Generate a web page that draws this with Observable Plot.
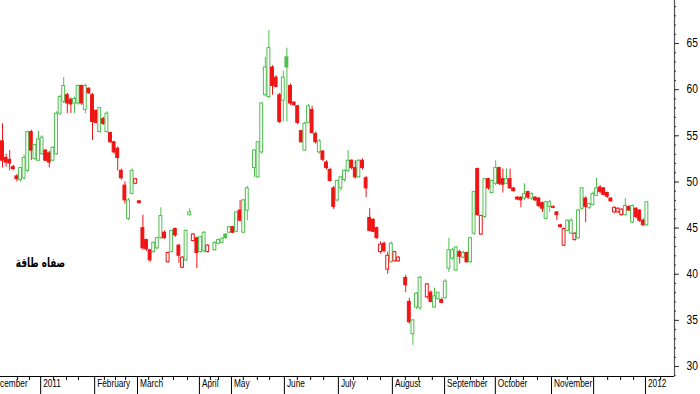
<!DOCTYPE html>
<html><head><meta charset="utf-8">
<script src="https://cdn.jsdelivr.net/npm/d3@7"></script>
<script src="https://cdn.jsdelivr.net/npm/@observablehq/plot@0.6"></script>
<style>
html,body{margin:0;padding:0;background:#fff;}
#chart{width:700px;height:394px;overflow:hidden;}
</style></head><body><div id="chart"></div>
<script>
// Daily candles (trading-day index order), Dec 2010 – early Jan 2012; null = no session drawn
const open = [
54.4,52.6,52.4,51.6,50.6,50.2,50.4,51.2,55.4,52.5,
52.3,53.0,53.4,53.1,52.3,53.0,57.4,58.7,59.4,58.9,
58.5,58.5,60.4,57.8,60.1,59.4,57.7,55.4,56.8,55.4,
55.3,54.3,53.6,51.2,49.6,46.0,48.7,49.8,47.9,45.0,
43.7,42.6,42.4,42.8,43.9,44.5,41.3,42.4,44.9,43.1,
40.7,41.5,46.4,43.6,43.9,42.4,42.5,42.4,null,42.6,
43.3,43.4,44.3,44.5,45.1,44.6,46.9,44.5,46.9,null,
51.5,50.5,53.2,59.4,59.2,62.4,61.3,59.4,58.8,63.5,
60.4,58.6,58.2,55.5,53.4,56.4,57.8,55.2,53.2,53.3,
52.1,51.3,49.3,48.0,49.3,50.2,51.2,52.3,51.5,50.5,
52.3,50.4,46.1,45.9,45.0,42.4,43.3,40.5,41.3,41.4,
41.4,null,39.6,37.0,33.5,36.4,36.3,null,37.5,38.0,
36.4,37.3,37.2,37.4,40.6,41.7,40.4,42.4,41.8,42.3,
41.3,44.4,51.4,44.3,46.2,50.3,48.8,49.8,51.5,50.3,
49.8,50.3,49.3,48.3,48.3,48.2,48.9,48.2,48.3,48.2,
47.7,46.0,47.3,47.3,46.7,45.3,43.1,44.7,44.4,43.7,
43.9,47.1,48.2,47.2,47.5,48.5,49.4,49.3,48.8,48.2,
46.7,46.7,46.4,46.4,47.3,45.6,47.1,46.9,45.8,45.3
];
const high = [
56.3,53.0,53.4,51.8,50.8,51.6,52.9,55.5,55.6,54.1,
55.5,55.0,53.5,53.3,53.8,57.6,59.4,61.3,59.6,59.1,
59.2,60.5,60.5,60.6,60.2,59.6,57.8,58.1,57.0,57.6,
55.4,54.4,53.8,51.4,50.0,48.2,51.4,50.4,48.0,46.4,
43.8,42.7,43.5,44.0,47.2,44.7,42.4,44.8,45.0,43.2,
41.9,44.8,47.1,44.4,44.0,44.1,44.6,43.2,null,43.5,
43.8,44.0,44.4,45.2,45.2,46.8,48.0,48.1,49.5,null,
53.5,54.4,58.6,63.5,66.4,62.6,61.5,59.6,62.0,64.5,
60.6,58.7,58.3,55.6,56.5,58.4,58.2,55.4,54.6,53.4,
52.3,51.5,49.5,50.2,50.6,51.3,53.4,52.4,52.3,52.4,
52.5,50.6,47.1,46.0,45.1,43.5,43.5,42.4,43.5,42.5,
41.9,null,39.9,37.4,35.1,38.0,39.8,null,39.0,38.2,
38.5,38.0,37.4,39.4,43.9,42.8,43.0,42.6,42.5,42.4,
44.0,49.0,51.5,46.4,50.4,50.4,50.2,52.3,51.6,51.4,
51.4,51.4,49.4,48.4,48.4,49.8,49.0,48.8,48.4,48.3,
47.8,47.9,48.0,47.4,46.8,45.4,45.0,45.9,46.0,44.5,
47.0,49.4,48.4,47.7,48.9,50.4,49.6,49.4,48.9,48.3,
47.3,47.2,47.1,48.2,47.4,47.5,47.2,47.0,46.0,47.9
];
const low = [
51.5,51.6,51.2,51.2,50.0,50.0,50.2,51.0,52.3,52.3,
52.2,52.9,52.2,51.5,52.2,52.9,57.2,58.5,57.4,57.4,
57.4,58.3,58.3,57.4,59.5,54.5,56.3,55.3,56.1,55.3,
54.2,53.0,51.2,50.2,47.6,45.8,48.6,49.7,47.6,42.6,
42.5,41.3,42.3,42.7,43.8,43.8,41.2,42.3,44.0,41.2,
40.6,41.4,46.3,43.5,40.6,42.3,42.3,42.3,null,42.5,
43.2,43.3,43.8,44.4,44.4,44.5,45.7,44.4,45.8,null,
50.5,50.4,53.0,59.2,59.0,59.4,60.2,56.3,56.5,56.5,
58.3,58.2,56.2,54.2,53.3,56.3,55.2,54.1,53.0,52.2,
51.3,50.0,47.0,47.8,49.0,50.0,51.0,51.3,50.3,50.4,
51.3,48.3,44.6,44.5,43.8,42.2,42.3,40.0,41.2,41.3,
41.3,null,38.0,34.6,32.3,36.2,36.1,null,37.3,36.9,
36.3,37.2,36.8,37.3,40.2,41.5,40.3,41.1,41.7,41.2,
41.2,44.2,46.3,44.2,46.0,49.1,48.7,49.6,49.6,48.8,
49.7,49.2,48.9,48.0,47.2,48.0,48.1,48.0,47.9,47.2,
46.7,45.9,46.7,47.1,45.8,45.0,43.0,44.6,44.3,43.6,
43.8,46.9,45.6,47.0,47.4,48.4,48.7,48.5,48.2,47.8,
46.6,46.6,46.3,46.3,46.8,45.5,46.0,45.6,45.2,45.2
];
const close = [
52.3,52.1,52.0,51.4,50.3,51.5,52.6,55.4,53.4,54.0,
54.6,54.8,52.3,52.1,53.7,57.4,59.2,60.4,58.5,58.4,
59.0,60.4,58.5,60.4,59.6,56.5,56.4,58.0,56.3,57.4,
54.3,53.2,52.6,50.4,48.0,48.0,51.2,50.3,47.7,42.8,
42.7,41.5,43.4,43.9,46.3,43.9,42.3,44.7,44.2,42.0,
41.8,44.7,46.7,44.3,42.3,44.0,44.5,43.1,null,43.4,
43.7,43.8,43.9,45.1,44.5,46.7,45.8,48.0,49.3,null,
53.4,54.3,58.5,62.4,64.5,60.4,60.3,56.5,61.3,62.4,
58.5,58.3,56.4,54.3,56.3,58.2,55.3,54.3,54.4,52.4,
51.5,50.1,47.3,50.1,50.5,51.2,52.3,51.5,50.5,52.3,
51.5,49.3,44.7,44.6,43.9,43.2,42.5,42.0,43.3,42.4,
41.8,null,38.8,34.8,35.0,37.9,39.6,null,38.9,37.0,
37.6,38.0,36.9,39.2,42.6,42.6,42.9,41.9,42.3,41.3,
43.9,48.9,46.4,46.3,50.3,49.3,50.1,51.5,49.8,49.7,
50.3,49.3,49.0,48.1,48.0,48.7,48.3,48.7,48.0,47.4,
47.1,47.8,47.8,47.2,46.4,45.1,44.9,45.8,45.8,44.4,
46.9,49.3,47.3,47.6,48.7,49.3,48.9,48.6,48.4,47.9,
47.2,47.1,47.0,47.4,46.9,47.4,46.2,45.8,45.3,47.8
];

// Month boundaries on the trading-day index axis, and their labels
const monthPos = [-4.3, 10.6, 25.6, 37.5, 54.7, 63.6, 78.3, 93.3, 108.3, 122.8, 136.9, 152.5, 164.2, 178.6];
const monthLabels = ["December","2011","February","March","April","May","June","July","August","September","October","November","","2012"];
// Weekly minor ticks (trading-day index)
const weekTicks = [4.2,7.5,14.2,17.8,21.1,28.3,31.4,34.2,40.6,44.4,47.5,51.4,57.8,60.0,66.9,70.8,74.2,81.9,85.6,89.2,97.5,101.4,105.0,111.9,115.6,119.4,126.4,130.0,133.6,141.1,144.7,148.6,156.9,160.6,168.1,171.7,175.3,182.8];
// Price axis ticks
const yTicks = [30,35,40,45,50,55,60,65];
const yMinor = d3.range(29, 70, 1);
const title = "صفاه طاقة";

const candles = open.map((o, i) => ({i, o, h: high[i], l: low[i], c: close[i]})).filter(d => d.o != null);
let prevClose = null;
for (const d of candles) {
  const ref = prevClose == null ? d.o : prevClose;
  d.up = d.c >= ref;
  d.filled = d.c < d.o;
  prevClose = d.c;
}
const green = "#4fbf4f", red = "#f01414";
const xMin = -2/3.6, xMax = 672/3.6;
const yMin = 28.92, yMax = 69.66;
const sans = "'Liberation Sans',Arial,sans-serif";

const chart = Plot.plot({
  width: 700, height: 394,
  marginLeft: 0, marginRight: 26, marginTop: 0, marginBottom: 18,
  x: {type: "linear", domain: [xMin, xMax], axis: null},
  y: {domain: [yMin, yMax], axis: null},
  color: {type: "identity"},
  style: {background: "#fff", fontFamily: sans, color: "#000"},
  marks: [
    Plot.ruleX(candles, {x: "i", y1: "l", y2: "h", stroke: d => d.up ? green : red, strokeWidth: 1}),
    Plot.rect(candles, {
      x1: d => d.i - 0.4, x2: d => d.i + 0.4,
      y1: d => Math.min(d.o, d.c), y2: d => Math.max(d.o, d.c),
      fill: d => d.filled ? (d.up ? green : red) : "#fff",
      stroke: d => d.up ? green : red, strokeWidth: 1
    }),
    // axis lines
    Plot.ruleY([yMin], {stroke: "#000", strokeWidth: 1}),
    Plot.ruleX([xMax], {stroke: "#555", strokeWidth: 1.2}),
    // y minor ticks
    Plot.ruleY(yMinor, {x1: xMax, x2: xMax + 2/3.6, stroke: "#333"}),
    Plot.axisY(yTicks, {anchor: "right", tickSize: 4, tickPadding: 8, fontSize: 12, label: null, stroke: "#333", fontFamily: sans}),
    // x ticks
    Plot.axisX(weekTicks, {anchor: "bottom", tickSize: 4, tickFormat: () => "", label: null, stroke: "#000"}),
    Plot.axisX(monthPos, {anchor: "bottom", tickSize: 18, tickFormat: () => "", label: null, stroke: "#000"}),
    Plot.text(monthPos.map((p, k) => ({p, t: monthLabels[k]})), {
      x: "p", text: "t", frameAnchor: "bottom", dy: 10, dx: 2.5, textAnchor: "start",
      fontSize: 11.5, fill: "#000", fontFamily: sans
    }),
    Plot.text([title], {frameAnchor: "left", dx: 40, dy: 74, textAnchor: "middle", fontSize: 13, fontWeight: "bold", fill: "#000", fontFamily: "'DejaVu Sans',sans-serif"})
  ]
});
document.getElementById("chart").appendChild(chart);

// condensed lettering, like the reference's narrow font
const monthSet = new Set(monthLabels.filter(s => s));
const ySet = new Set(yTicks.map(String));
d3.select(chart).selectAll("text").each(function() {
  const s = this.textContent;
  let k = null;
  if (monthSet.has(s)) k = 0.72;
  else if (ySet.has(s)) k = 0.85;
  else if (s === title) k = 0.68;
  if (k == null) return;
  const w = this.getComputedTextLength();
  if (w > 0) {
    this.setAttribute("textLength", (w * k).toFixed(1));
    this.setAttribute("lengthAdjust", "spacingAndGlyphs");
  }
});
</script>
</body></html>
